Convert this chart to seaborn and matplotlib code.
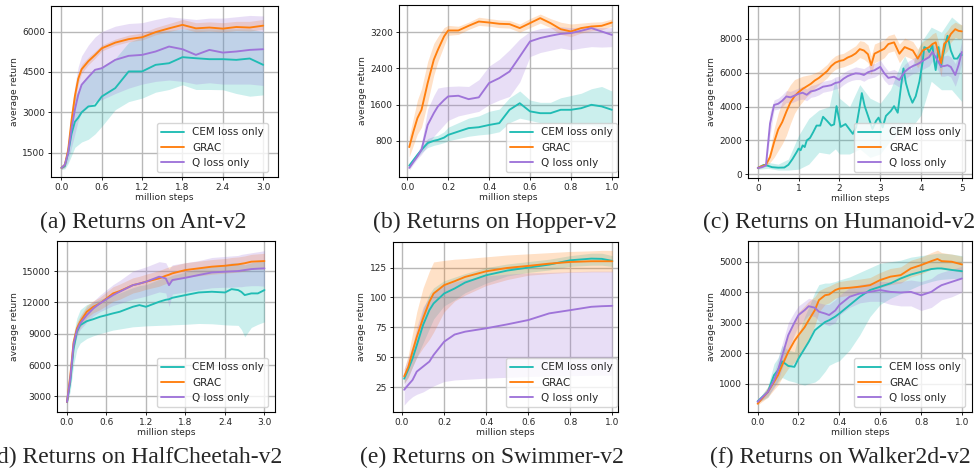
import matplotlib
matplotlib.use("Agg")
import matplotlib.pyplot as plt
import seaborn as sns

METHODS = ["CEM loss only", "GRAC", "Q loss only"]
COLORS = ["#20bcb4", "#ff7f0e", "#9f74d9"]

# ---------------- (a) Ant-v2 ----------------
ant_x = [0, 0.05, 0.1, 0.15, 0.2, 0.25, 0.3, 0.4, 0.5, 0.6, 0.8, 1.0, 1.2, 1.4, 1.6, 1.8, 2.0, 2.2, 2.4, 2.6, 2.8, 3.0]
ant_cem = [940, 1000, 1500, 2200, 2650, 2800, 3000, 3220, 3250, 3590, 3900, 4520, 4520, 4765, 4825, 5050, 5010, 4975, 4975, 4950, 5000, 4765]
ant_cem_lo = [880, 900, 1100, 1400, 1700, 1800, 1900, 2000, 2200, 2480, 3100, 3400, 3530, 3750, 3850, 4025, 3850, 3850, 3840, 3700, 3600, 3650]
ant_cem_hi = [1000, 1150, 1900, 3000, 3600, 3800, 4100, 4400, 4550, 4700, 5000, 5600, 5800, 6000, 6050, 6100, 6100, 6100, 6100, 6100, 6100, 6000]
ant_grac = [940, 1050, 1600, 2700, 3600, 4250, 4600, 4900, 5130, 5380, 5590, 5720, 5790, 5980, 6120, 6250, 6120, 6150, 6110, 6170, 6150, 6220]
ant_grac_lo = [890, 970, 1450, 2500, 3400, 4070, 4450, 4770, 5010, 5280, 5490, 5620, 5690, 5880, 6000, 6120, 5990, 6020, 5980, 6040, 6020, 6080]
ant_grac_hi = [990, 1150, 1800, 2950, 3850, 4450, 4780, 5050, 5270, 5500, 5720, 5870, 5950, 6150, 6300, 6450, 6330, 6360, 6330, 6380, 6380, 6450]
ant_q = [940, 1050, 1500, 2400, 3100, 3650, 4025, 4310, 4580, 4640, 4950, 5100, 5135, 5260, 5445, 5345, 5135, 5320, 5220, 5260, 5320, 5345]
ant_q_lo = [880, 950, 1200, 1700, 2200, 2700, 3000, 3200, 3400, 3470, 3700, 3900, 4050, 4150, 4200, 4150, 4050, 4100, 4050, 4050, 4050, 4000]
ant_q_hi = [1000, 1200, 1900, 3100, 4000, 4700, 5100, 5500, 5800, 6000, 6200, 6300, 6330, 6450, 6550, 6500, 6450, 6500, 6500, 6550, 6600, 6580]

# ---------------- (b) Hopper-v2 ----------------
hop_x = [0.01, 0.03, 0.05, 0.07, 0.1, 0.13, 0.15, 0.18, 0.2, 0.25, 0.3, 0.35, 0.4, 0.45, 0.5, 0.55, 0.6, 0.65, 0.7, 0.75, 0.8, 0.85, 0.9, 0.95, 1.0]
hop_cem = [250, 370, 490, 600, 750, 800, 820, 870, 930, 1005, 1080, 1100, 1150, 1190, 1485, 1630, 1450, 1410, 1410, 1485, 1485, 1520, 1595, 1560, 1485]
hop_cem_lo = [200, 320, 440, 540, 650, 700, 720, 760, 800, 850, 900, 930, 950, 1000, 1200, 1300, 1250, 1200, 1200, 1200, 1150, 1150, 1150, 1100, 1100]
hop_cem_hi = [300, 420, 540, 660, 850, 900, 920, 1000, 1100, 1200, 1300, 1350, 1450, 1500, 1750, 1900, 1700, 1650, 1650, 1750, 1800, 1850, 1950, 2000, 1900]
hop_grac = [660, 1000, 1300, 1485, 2075, 2590, 2810, 3105, 3237, 3237, 3340, 3435, 3413, 3385, 3377, 3290, 3400, 3510, 3400, 3266, 3215, 3290, 3325, 3340, 3413]
hop_grac_lo = [450, 700, 950, 1100, 1650, 2250, 2550, 2900, 3130, 3150, 3260, 3350, 3330, 3300, 3290, 3200, 3300, 3400, 3300, 3150, 3100, 3180, 3230, 3250, 3330]
hop_grac_hi = [900, 1300, 1700, 1950, 2550, 2950, 3100, 3300, 3350, 3330, 3420, 3530, 3500, 3470, 3460, 3380, 3500, 3600, 3500, 3420, 3380, 3400, 3420, 3430, 3490]
hop_q = [200, 330, 455, 600, 1150, 1410, 1560, 1700, 1780, 1795, 1720, 1760, 2075, 2185, 2330, 2660, 2995, 3070, 3120, 3163, 3180, 3230, 3290, 3215, 3140]
hop_q_lo = [150, 280, 400, 500, 700, 900, 1000, 1150, 1250, 1350, 1400, 1450, 1600, 1700, 1780, 2100, 2660, 2750, 2800, 2850, 2810, 2850, 2880, 2870, 2880]
hop_q_hi = [250, 380, 520, 750, 1500, 1800, 1965, 1990, 2000, 2010, 2000, 2150, 2450, 2600, 2810, 3050, 3215, 3280, 3300, 3320, 3300, 3310, 3330, 3300, 3300]

# ---------------- (c) Humanoid-v2 ----------------
hum_cem_x = [0.0, 0.15, 0.25, 0.35, 0.5, 0.65, 0.75, 0.85, 0.95, 1.0, 1.05, 1.1, 1.15, 1.2, 1.28, 1.36, 1.44, 1.53, 1.6, 1.7, 1.8, 1.87, 1.93, 2.03, 2.15, 2.24, 2.33, 2.41, 2.49, 2.55, 2.62, 2.73, 2.81, 2.9, 2.96, 3.06, 3.14, 3.26, 3.34, 3.43, 3.51, 3.57, 3.63, 3.71, 3.79, 3.87, 3.96, 4.04, 4.08, 4.16, 4.2, 4.28, 4.32, 4.36, 4.43, 4.49, 4.53, 4.61, 4.65, 4.73, 4.81, 4.89, 4.97, 5.0]
hum_cem = [375, 560, 500, 420, 390, 400, 560, 900, 1300, 1520, 1420, 1710, 1610, 2000, 2150, 2500, 2880, 2880, 3400, 3150, 2880, 2950, 4030, 2800, 2970, 2680, 2390, 2770, 3900, 4800, 4030, 3250, 2680, 3160, 3350, 2770, 3450, 3740, 4030, 3640, 5190, 6260, 5390, 4710, 4230, 4610, 5480, 6640, 7520, 7420, 7230, 7610, 6740, 6160, 7520, 6350, 6930, 7800, 8190, 7320, 6840, 6840, 7130, 7050]
hum_cem_band_x = [0.0, 0.25, 0.5, 0.75, 1.0, 1.25, 1.5, 1.75, 1.9, 2.0, 2.25, 2.5, 2.75, 3.0, 3.25, 3.5, 3.6, 3.75, 4.0, 4.25, 4.5, 4.75, 5.0]
hum_cem_lo = [300, 350, 250, 250, 300, 600, 1300, 1200, 1500, 1200, 1200, 1500, 1000, 1200, 2000, 2500, 3000, 2700, 3500, 5500, 5000, 5000, 4300]
hum_cem_hi = [450, 700, 600, 900, 2300, 3300, 3800, 4000, 5700, 4500, 4000, 5300, 4500, 4200, 5000, 6500, 7000, 6200, 7800, 8700, 8400, 9300, 8800]
hum_x = [0.0, 0.1, 0.2, 0.3, 0.4, 0.5, 0.6, 0.7, 0.8, 0.9, 1.0, 1.1, 1.2, 1.3, 1.4, 1.5, 1.6, 1.7, 1.8, 1.9, 2.0, 2.1, 2.2, 2.3, 2.4, 2.5, 2.6, 2.7, 2.78, 2.86, 3.0, 3.1, 3.2, 3.34, 3.47, 3.6, 3.7, 3.8, 3.92, 4.04, 4.2, 4.28, 4.36, 4.49, 4.57, 4.65, 4.73, 4.84, 4.92, 5.0]
hum_grac = [375, 480, 560, 1020, 1900, 2650, 3090, 3700, 4250, 4620, 4860, 5050, 5200, 5350, 5550, 5700, 5900, 6100, 6400, 6600, 6700, 6750, 6900, 7000, 7150, 7400, 7320, 7100, 6450, 7130, 7300, 7420, 7700, 7800, 7130, 7520, 7420, 7320, 6840, 7320, 7520, 7700, 7800, 6550, 7710, 7900, 8290, 8580, 8480, 8450]
hum_grac_lo = [330, 420, 480, 700, 1000, 1400, 1800, 2300, 3000, 3600, 4000, 4300, 4600, 4800, 5100, 5300, 5500, 5700, 6000, 6200, 6300, 6350, 6450, 6550, 6700, 6900, 6800, 6600, 5900, 6600, 6750, 6900, 7200, 7300, 6600, 7000, 6900, 6800, 6300, 6800, 6900, 7100, 7200, 5800, 7100, 7300, 7800, 8100, 8000, 8050]
hum_grac_hi = [420, 560, 650, 1400, 2700, 3600, 4300, 4900, 5300, 5600, 5700, 5800, 5850, 5900, 6000, 6100, 6300, 6500, 6800, 7000, 7100, 7150, 7300, 7450, 7600, 7900, 7850, 7650, 7000, 7700, 7850, 7950, 8200, 8300, 7700, 8050, 7950, 7850, 7400, 7850, 8100, 8300, 8400, 7300, 8300, 8500, 8800, 9000, 8900, 8850]
hum_q = [375, 420, 530, 3000, 4100, 4170, 4350, 4600, 4550, 4650, 4760, 4820, 4700, 4900, 4950, 5050, 5180, 5220, 5270, 5400, 5450, 5650, 5800, 5900, 5970, 5950, 5870, 6030, 6100, 6150, 6350, 5970, 5700, 5770, 5580, 6060, 6260, 6400, 6520, 6700, 6930, 7230, 6930, 6380, 6400, 6450, 6350, 5870, 6450, 7230]
hum_q_lo = [340, 380, 480, 2300, 3800, 3850, 4000, 4250, 4200, 4300, 4400, 4450, 4350, 4550, 4600, 4700, 4850, 4900, 4950, 5050, 5100, 5300, 5450, 5550, 5600, 5600, 5500, 5650, 5700, 5750, 5950, 5550, 5300, 5350, 5150, 5600, 5800, 5950, 6050, 6200, 6400, 6700, 6400, 5800, 5800, 5850, 5750, 5200, 5800, 6600]
hum_q_hi = [410, 460, 600, 3700, 4400, 4500, 4700, 4950, 4900, 5000, 5100, 5200, 5050, 5250, 5300, 5400, 5500, 5550, 5600, 5750, 5800, 6000, 6150, 6250, 6350, 6300, 6250, 6400, 6500, 6550, 6750, 6400, 6100, 6200, 6000, 6500, 6700, 6850, 7000, 7200, 7450, 7750, 7450, 6950, 7000, 7050, 6950, 6550, 7100, 7850]

# ---------------- (d) HalfCheetah-v2 ----------------
hc_x = [0, 0.05, 0.1, 0.15, 0.2, 0.3, 0.4, 0.5, 0.6, 0.7, 0.8, 1.0, 1.1, 1.2, 1.4, 1.5, 1.55, 1.6, 1.8, 2.0, 2.2, 2.4, 2.5, 2.6, 2.65, 2.7, 2.8, 2.9, 3.0]
hc_cem = [2460, 4380, 7570, 9180, 9820, 10200, 10390, 10620, 10780, 10950, 11100, 11580, 11740, 11580, 12060, 12250, 12300, 12440, 12700, 12950, 13020, 12950, 13270, 13180, 13000, 12700, 12860, 12860, 13180]
hc_cem_lo = [2200, 3500, 6000, 7500, 8100, 8540, 8800, 9000, 9180, 9350, 9450, 9660, 9700, 9750, 9800, 9820, 9820, 9850, 9900, 9980, 9950, 9850, 9820, 9800, 9400, 8700, 9600, 9900, 10140]
hc_cem_hi = [2700, 5200, 9000, 10500, 11300, 11800, 12000, 12300, 12500, 12700, 12900, 13400, 13600, 13700, 14200, 14400, 14450, 14600, 14900, 15300, 15500, 15600, 15800, 15800, 15700, 15600, 15800, 15900, 16000]
hc_grac = [2460, 5000, 8200, 9500, 10140, 11100, 11580, 11900, 12380, 12860, 13080, 13650, 13800, 13980, 14300, 14550, 14650, 14780, 15100, 15260, 15420, 15510, 15580, 15640, 15700, 15750, 15900, 15930, 15960]
hc_grac_lo = [2300, 4500, 7600, 8900, 9600, 10500, 11000, 11300, 11700, 12100, 12300, 12900, 13050, 13250, 13550, 13800, 13900, 14050, 14400, 14550, 14700, 14800, 14850, 14900, 14950, 15000, 15150, 15200, 15200]
hc_grac_hi = [2600, 5500, 8800, 10100, 10700, 11700, 12150, 12500, 13000, 13500, 13750, 14350, 14500, 14700, 15050, 15300, 15400, 15500, 15800, 15950, 16100, 16200, 16300, 16350, 16400, 16450, 16600, 16650, 16700]
hc_q = [2460, 4700, 8000, 9300, 9980, 10780, 11420, 11900, 12310, 12700, 13020, 13650, 13800, 13980, 14460, 14300, 13650, 14140, 14360, 14620, 14870, 14940, 14970, 15000, 15050, 15100, 15190, 15230, 15260]
hc_q_lo = [2300, 4200, 7400, 8700, 9400, 10100, 10700, 11100, 11400, 11700, 11900, 12300, 12450, 12600, 13000, 12900, 11600, 12800, 13000, 13200, 13400, 13450, 13450, 13500, 13500, 13550, 13600, 13600, 13550]
hc_q_hi = [2600, 5200, 8600, 9900, 10600, 11500, 12100, 12700, 13200, 13700, 14100, 15000, 15200, 15400, 15900, 15800, 15200, 15600, 15800, 16000, 16300, 16400, 16450, 16500, 16600, 16650, 16750, 16850, 16950]

# ---------------- (e) Swimmer-v2 ----------------
sw_x = [0.01, 0.03, 0.05, 0.07, 0.1, 0.13, 0.15, 0.2, 0.25, 0.3, 0.4, 0.5, 0.6, 0.7, 0.8, 0.9, 0.95, 1.0]
sw_cem = [32, 40, 49, 60, 77, 89.4, 95, 103.3, 107.5, 112.5, 118.6, 122.5, 125, 127.5, 131.1, 132.5, 132.3, 130.6]
sw_cem_lo = [28, 34, 42, 50, 62, 74, 82, 93, 98, 104, 112, 118, 121, 123, 126, 127, 127, 126]
sw_cem_hi = [36, 46, 56, 70, 90, 103, 108, 114, 117, 120, 125, 128, 130, 132, 135, 137, 137, 135]
sw_grac = [34, 42, 55, 67, 82.5, 96.4, 103.3, 110.3, 113.6, 117.2, 121.9, 124.7, 126.4, 128.3, 129.7, 130.3, 130.3, 130.3]
sw_grac_lo = [28, 33, 42, 50, 58, 65, 71, 88, 97, 102, 110, 115, 118.6, 120, 121, 121.4, 121.4, 121.4]
sw_grac_hi = [40, 52, 70, 88, 108, 122, 129.7, 131, 132, 132.5, 134, 135.5, 136.5, 137.5, 138.5, 139, 139.4, 139.4]
sw_q = [22.8, 27, 31, 38, 42.2, 46.4, 51.9, 63, 69, 71.4, 74.2, 77.5, 81.1, 86.7, 89.4, 92.2, 92.7, 93]
sw_q_lo = [10, 14, 17, 19, 21, 24, 26, 29.7, 31, 31.5, 32.5, 33.2, 33.9, 34.3, 34.6, 34.9, 35, 35]
sw_q_hi = [40, 50, 60, 75, 92, 100, 105, 110, 113, 115, 118, 119.5, 120.5, 121, 121.5, 122, 122, 122]

# ---------------- (f) Walker2d-v2 ----------------
wk_x = [0.0, 0.05, 0.08, 0.1, 0.12, 0.15, 0.18, 0.2, 0.23, 0.25, 0.28, 0.3, 0.33, 0.35, 0.38, 0.4, 0.45, 0.5, 0.55, 0.6, 0.65, 0.7, 0.75, 0.8, 0.85, 0.88, 0.9, 0.95, 1.0]
wk_cem = [420, 725, 1275, 1440, 1730, 1580, 1550, 1820, 2150, 2370, 2750, 2860, 3020, 3080, 3200, 3300, 3575, 3850, 4070, 4180, 4290, 4450, 4580, 4670, 4760, 4780, 4780, 4730, 4690]
wk_cem_lo = [380, 550, 900, 1050, 1200, 1100, 1050, 1000, 950, 1000, 1050, 1150, 1400, 1600, 1700, 1750, 2100, 2600, 3200, 3600, 3800, 3950, 4100, 4250, 4350, 4400, 4420, 4450, 4450]
wk_cem_hi = [460, 900, 1650, 1850, 2250, 2100, 2050, 2600, 3200, 3500, 4000, 4250, 4300, 4300, 4350, 4400, 4500, 4650, 4800, 4950, 5000, 5050, 5150, 5200, 5250, 5280, 5280, 5250, 5200]
wk_grac = [340, 725, 1050, 1275, 1600, 2040, 2400, 2590, 2850, 3080, 3410, 3740, 3900, 3925, 4070, 4120, 4145, 4180, 4230, 4400, 4510, 4560, 4780, 4890, 5020, 5090, 5020, 5000, 4910]
wk_grac_lo = [300, 550, 800, 950, 1200, 1500, 1700, 1850, 2150, 2450, 2900, 3350, 3600, 3650, 3800, 3850, 3900, 3950, 4000, 4150, 4250, 4300, 4500, 4600, 4750, 4800, 4750, 4720, 4650]
wk_grac_hi = [380, 900, 1300, 1600, 2000, 2600, 3100, 3350, 3550, 3700, 3850, 4050, 4150, 4200, 4300, 4350, 4400, 4430, 4480, 4650, 4780, 4830, 5050, 5150, 5300, 5380, 5300, 5250, 5180]
wk_q = [400, 725, 1100, 1440, 1900, 2590, 3000, 3250, 3410, 3540, 3490, 3360, 3300, 3250, 3400, 3580, 3850, 3960, 4010, 4070, 4010, 3990, 4010, 3900, 4010, 4150, 4230, 4340, 4450]
wk_q_lo = [350, 600, 850, 1100, 1500, 2100, 2600, 2900, 3100, 3250, 3200, 3050, 2950, 2900, 3000, 3250, 3500, 3650, 3700, 3700, 3600, 3550, 3550, 3400, 3500, 3650, 3750, 3850, 4000]
wk_q_hi = [450, 850, 1350, 1800, 2300, 3000, 3350, 3550, 3700, 3800, 3750, 3650, 3600, 3600, 3750, 3900, 4150, 4250, 4300, 4350, 4350, 4350, 4400, 4350, 4450, 4600, 4650, 4750, 4850]

# ---------------- ticks & captions ----------------
x3_ticks = [0.0, 0.6, 1.2, 1.8, 2.4, 3.0]
x3_labels = ["0.0", "0.6", "1.2", "1.8", "2.4", "3.0"]
x1_ticks = [0.0, 0.2, 0.4, 0.6, 0.8, 1.0]
x1_labels = ["0.0", "0.2", "0.4", "0.6", "0.8", "1.0"]
x5_ticks = [0, 1, 2, 3, 4, 5]
x5_labels = ["0", "1", "2", "3", "4", "5"]
ant_yticks = [1500, 3000, 4500, 6000]
hop_yticks = [800, 1600, 2400, 3200]
hum_yticks = [0, 2000, 4000, 6000, 8000]
hc_yticks = [3000, 6000, 9000, 12000, 15000]
sw_yticks = [25, 50, 75, 100, 125]
wk_yticks = [1000, 2000, 3000, 4000, 5000]
captions = ["(a) Returns on Ant-v2", "(b) Returns on Hopper-v2", "(c) Returns on Humanoid-v2",
            "(d) Returns on HalfCheetah-v2", "(e) Returns on Swimmer-v2", "(f) Returns on Walker2d-v2"]

sns.set_style("ticks", {"axes.grid": True, "grid.color": "#b8b8b8"})
plt.rcParams.update({
    "font.family": ["DejaVu Sans"],
    "xtick.labelsize": 6.5, "ytick.labelsize": 6.5, "axes.labelsize": 6.6,
    "xtick.major.size": 2.5, "ytick.major.size": 2.5,
    "xtick.major.pad": 1.8, "ytick.major.pad": 1.8,
    "xtick.major.width": 0.7, "ytick.major.width": 0.7,
    "axes.linewidth": 0.8, "axes.edgecolor": "black",
    "grid.linewidth": 1.0,
})

W, H = 978, 470
fig = plt.figure(figsize=(W / 100, H / 100), dpi=100)


def pix_rect(l, r, t, b):
    return [l / W, 1 - b / H, (r - l) / W, (b - t) / H]


def series(x, m, lo, hi, bx=None):
    return dict(x=x, m=m, lo=lo, hi=hi, bx=bx if bx is not None else x)


panels = [
    dict(rect=pix_rect(51, 278, 6, 177), xlim=(-0.155, 3.22), ylim=(600, 6950),
         xt=(x3_ticks, x3_labels), yt=ant_yticks, leg=(0.956, 0.029), cap=(143, 222),
         s=[series(ant_x, ant_cem, ant_cem_lo, ant_cem_hi), series(ant_x, ant_grac, ant_grac_lo, ant_grac_hi),
            series(ant_x, ant_q, ant_q_lo, ant_q_hi)]),
    dict(rect=pix_rect(399, 618, 5, 177), xlim=(-0.04, 1.03), ylim=(0, 3800),
         xt=(x1_ticks, x1_labels), yt=hop_yticks, leg=(0.997, 0.029), cap=(495, 222),
         s=[series(hop_x, hop_cem, hop_cem_lo, hop_cem_hi), series(hop_x, hop_grac, hop_grac_lo, hop_grac_hi),
            series(hop_x, hop_q, hop_q_lo, hop_q_hi)]),
    dict(rect=pix_rect(748, 972, 6, 178), xlim=(-0.24, 5.25), ylim=(-220, 9950),
         xt=(x5_ticks, x5_labels), yt=hum_yticks, leg=(0.969, 0.035), cap=(839, 222),
         s=[series(hum_cem_x, hum_cem, hum_cem_lo, hum_cem_hi, hum_cem_band_x),
            series(hum_x, hum_grac, hum_grac_lo, hum_grac_hi), series(hum_x, hum_q, hum_q_lo, hum_q_hi)]),
    dict(rect=pix_rect(57, 275, 241, 412), xlim=(-0.152, 3.16), ylim=(1500, 17880),
         xt=(x3_ticks, x3_labels), yt=hc_yticks, leg=(0.969, 0.029), cap=(136, 457),
         s=[series(hc_x, hc_cem, hc_cem_lo, hc_cem_hi), series(hc_x, hc_grac, hc_grac_lo, hc_grac_hi),
            series(hc_x, hc_q, hc_q_lo, hc_q_hi)]),
    dict(rect=pix_rect(393, 618, 242, 412), xlim=(-0.043, 1.027), ylim=(4.2, 146.4),
         xt=(x1_ticks, x1_labels), yt=sw_yticks, leg=(0.997, 0.029), cap=(492, 457),
         s=[series(sw_x, sw_cem, sw_cem_lo, sw_cem_hi), series(sw_x, sw_grac, sw_grac_lo, sw_grac_hi),
            series(sw_x, sw_q, sw_q_lo, sw_q_hi)]),
    dict(rect=pix_rect(748, 972, 241, 412), xlim=(-0.047, 1.049), ylim=(68, 5680),
         xt=(x1_ticks, x1_labels), yt=wk_yticks, leg=(0.969, 0.029), cap=(840, 457),
         s=[series(wk_x, wk_cem, wk_cem_lo, wk_cem_hi), series(wk_x, wk_grac, wk_grac_lo, wk_grac_hi),
            series(wk_x, wk_q, wk_q_lo, wk_q_hi)]),
]

for p, cap in zip(panels, captions):
    ax = fig.add_axes(p["rect"])
    for sdat, name, col in zip(p["s"], METHODS, COLORS):
        ax.fill_between(sdat["bx"], sdat["lo"], sdat["hi"], color=col, alpha=0.23, linewidth=0)
    for sdat, name, col in zip(p["s"], METHODS, COLORS):
        sns.lineplot(x=sdat["x"], y=sdat["m"], ax=ax, color=col, label=name, linewidth=1.35,
                     estimator=None, sort=False)
    ax.set_xlim(*p["xlim"])
    ax.set_ylim(*p["ylim"])
    ax.set_xticks(p["xt"][0])
    ax.set_xticklabels(p["xt"][1])
    ax.set_yticks(p["yt"])
    ax.set_yticklabels([str(v) for v in p["yt"]])
    ax.grid(True, color="#b8b8b8", linewidth=1.0)
    ax.set_axisbelow(True)
    ax.set_xlabel("million steps", labelpad=1.0)
    ax.set_ylabel("average return", labelpad=2.5)
    for sp in ax.spines.values():
        sp.set_visible(True)
        sp.set_color("black")
    ax.legend(loc="lower right", bbox_to_anchor=p["leg"], borderaxespad=0, fontsize=7.5,
              handlelength=2.2, frameon=True, fancybox=True)
    fig.text(p["cap"][0] / W, 1 - p["cap"][1] / H, cap, ha="center", va="center",
             family="Liberation Serif", fontsize=17)

fig.savefig("out.png", dpi=100)
